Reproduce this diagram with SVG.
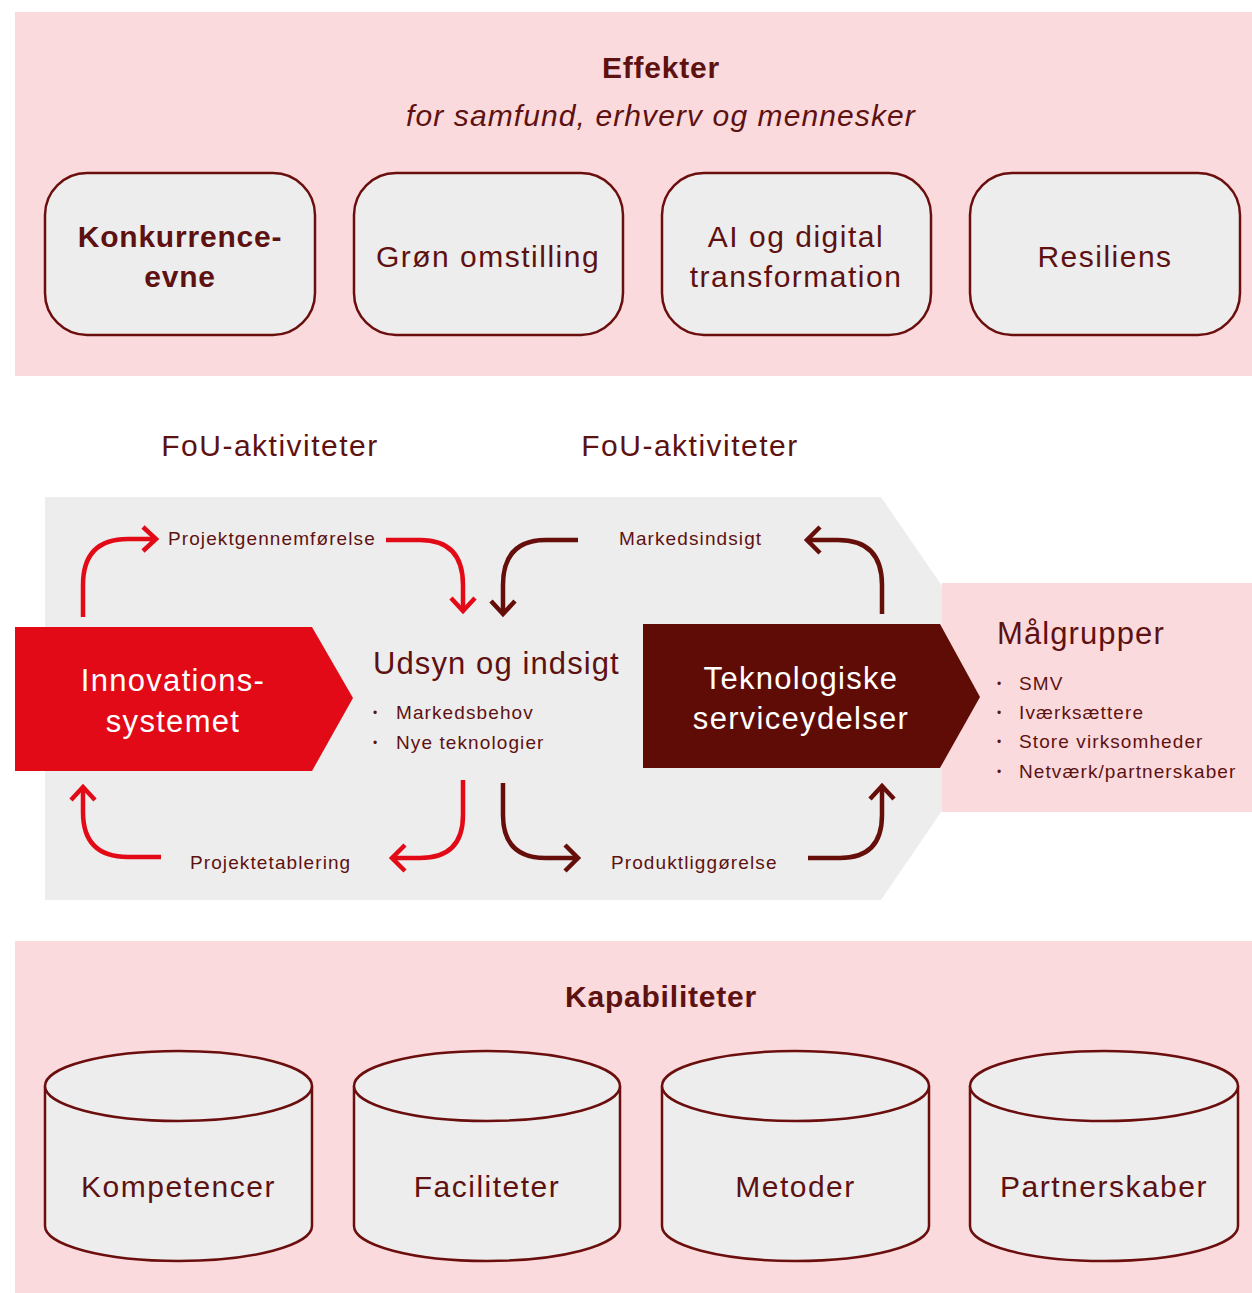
<svg xmlns="http://www.w3.org/2000/svg" width="1252" height="1293" viewBox="0 0 1252 1293">
<style>
text{font-family:"Liberation Sans","Noto Sans",Arial,sans-serif;fill:#5E1111}
.band{fill:#FADADC}
.box{fill:#EDEDED;stroke:#6B0E0E;stroke-width:2.5}
.t30{font-size:30px;text-anchor:middle;letter-spacing:1.5px}
.t32{font-size:31px;letter-spacing:1.1px}
.b{font-weight:bold;letter-spacing:0.8px}
.it{font-style:italic;font-weight:300;letter-spacing:1.1px}
.lbl{font-size:19px;letter-spacing:1.1px}
.bul{font-size:19px;letter-spacing:1.1px}
.dot{font-size:12px}
.white{fill:#FFFFFF;font-size:31px;text-anchor:middle;letter-spacing:1.3px}
.red{fill:none;stroke:#E20A17;stroke-width:4.5}
.dark{fill:none;stroke:#650E0A;stroke-width:4.5}
</style>
<rect width="1252" height="1293" fill="#FFFFFF"/>

<g id="effekter">
<rect class="band" x="15" y="12" width="1237" height="364"/>
<text class="t30 b" x="661" y="78">Effekter</text>
<text class="t30 it" x="661" y="126">for samfund, erhverv og mennesker</text>
</g>
<g id="konkurrenceevne">
<rect class="box" x="45" y="173" width="270" height="162" rx="42"/>
<text class="t30 b" x="180" y="247">Konkurrence-</text>
<text class="t30 b" x="180" y="287">evne</text>
</g>
<g id="groen">
<rect class="box" x="354" y="173" width="269" height="162" rx="42"/>
<text class="t30" x="488" y="267">Grøn omstilling</text>
</g>
<g id="ai">
<rect class="box" x="662" y="173" width="269" height="162" rx="42"/>
<text class="t30" x="796" y="247">AI og digital</text>
<text class="t30" x="796" y="287">transformation</text>
</g>
<g id="resiliens">
<rect class="box" x="970" y="173" width="270" height="162" rx="42"/>
<text class="t30" x="1105" y="267">Resiliens</text>
</g>

<g id="fou-labels">
<text class="t30" x="270" y="456">FoU-aktiviteter</text>
<text class="t30" x="690" y="456">FoU-aktiviteter</text>
</g>

<g id="process">
<polygon points="45,497 881,497 1019,698 881,900 45,900" fill="#EDEDED"/>
</g>

<g id="maalgrupper">
<rect class="band" x="942" y="583" width="310" height="229"/>
<text class="t32" x="997" y="644">Målgrupper</text>
<text class="dot" x="997" y="688">•</text><text class="bul" x="1019" y="690">SMV</text>
<text class="dot" x="997" y="717">•</text><text class="bul" x="1019" y="719">Iværksættere</text>
<text class="dot" x="997" y="746">•</text><text class="bul" x="1019" y="748">Store virksomheder</text>
<text class="dot" x="997" y="776">•</text><text class="bul" x="1019" y="778">Netværk/partnerskaber</text>
</g>

<g id="innovationssystemet">
<polygon points="15,627 312,627 353,698 312,771 15,771" fill="#E20A17"/>
<text class="white" x="173" y="691">Innovations-</text>
<text class="white" x="173" y="732">systemet</text>
</g>

<g id="udsyn">
<text class="t32" x="373" y="674">Udsyn og indsigt</text>
<text class="dot" x="373" y="717">•</text><text class="bul" x="396" y="719">Markedsbehov</text>
<text class="dot" x="373" y="747">•</text><text class="bul" x="396" y="749">Nye teknologier</text>
</g>

<g id="teknologiske">
<polygon points="643,624 940,624 980,697 940,768 643,768" fill="#600C06"/>
<text class="white" x="801" y="689">Teknologiske</text>
<text class="white" x="801" y="729">serviceydelser</text>
</g>

<g id="connectors">
<path class="red" d="M83,617 V585 Q83,539 128,539 H155"/>
<path class="red" d="M143,527 L156,539 L143,551"/>
<text class="lbl" x="168" y="545">Projektgennemførelse</text>
<path class="red" d="M386,540 H420 Q463,540 463,585 V610"/>
<path class="red" d="M451,598 L463,611 L475,598"/>
<path class="dark" d="M578,540 H546 Q503,540 503,585 V614"/>
<path class="dark" d="M491,601 L503,614 L515,601"/>
<text class="lbl" x="619" y="545">Markedsindsigt</text>
<path class="dark" d="M882,614 V585 Q882,540 838,540 H808"/>
<path class="dark" d="M820,527 L807,540 L820,553"/>

<path class="red" d="M463,780 V815 Q463,858 420,858 H392"/>
<path class="red" d="M405,845 L392,858 L405,871"/>
<text class="lbl" x="190" y="869">Projektetablering</text>
<path class="red" d="M161,857 H128 Q83,857 83,812 V788"/>
<path class="red" d="M71,800 L83,787 L95,800"/>
<path class="dark" d="M503,783 V815 Q503,858 546,858 H578"/>
<path class="dark" d="M565,845 L578,858 L565,871"/>
<text class="lbl" x="611" y="869">Produktliggørelse</text>
<path class="dark" d="M808,858 H840 Q882,858 882,815 V787"/>
<path class="dark" d="M870,799 L882,786 L894,799"/>
</g>

<g id="kapabiliteter">
<rect class="band" x="15" y="941" width="1237" height="352"/>
<text class="t30 b" x="661" y="1007">Kapabiliteter</text>
</g>
<g id="kompetencer">
<path class="box" d="M45,1086 V1226 A133.5,35 0 0 0 312,1226 V1086"/>
<ellipse class="box" cx="178.5" cy="1086" rx="133.5" ry="35"/>
<text class="t30" x="178.5" y="1197">Kompetencer</text>
</g>
<g id="faciliteter">
<path class="box" d="M354,1086 V1226 A133,35 0 0 0 620,1226 V1086"/>
<ellipse class="box" cx="487" cy="1086" rx="133" ry="35"/>
<text class="t30" x="487" y="1197">Faciliteter</text>
</g>
<g id="metoder">
<path class="box" d="M662,1086 V1226 A133.5,35 0 0 0 929,1226 V1086"/>
<ellipse class="box" cx="795.5" cy="1086" rx="133.5" ry="35"/>
<text class="t30" x="795.5" y="1197">Metoder</text>
</g>
<g id="partnerskaber">
<path class="box" d="M970,1086 V1226 A134,35 0 0 0 1238,1226 V1086"/>
<ellipse class="box" cx="1104" cy="1086" rx="134" ry="35"/>
<text class="t30" x="1104" y="1197">Partnerskaber</text>
</g>
</svg>
